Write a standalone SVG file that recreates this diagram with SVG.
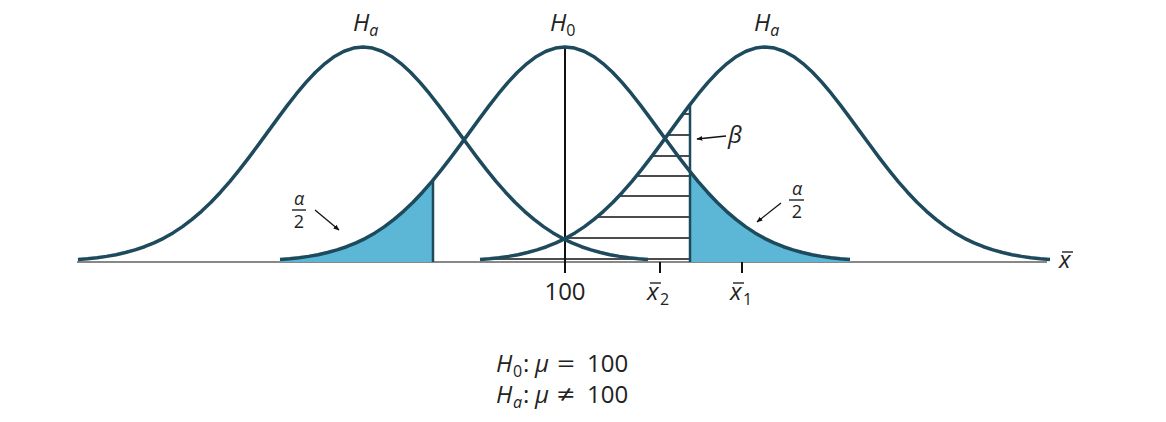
<svg xmlns="http://www.w3.org/2000/svg" xmlns:xlink="http://www.w3.org/1999/xlink" width="1166" height="422" viewBox="0 0 1166 422">
<style>
  text { font-family: "Open Sans", "Noto Sans", "Liberation Sans", sans-serif; fill: #222; }
  .it { font-style: italic; }
  .lbl { font-size: 24px; }
  .sub { font-size: 16px; }
  .frac { font-size: 18px; }
  .curve { fill: none; stroke: #1d4a5c; stroke-width: 3.5; stroke-linejoin: round; }
  .shade { fill: #5bb7d5; stroke: none; }
  .edge { stroke: #1d4a5c; stroke-width: 2.5; }
  .hatch { stroke: #111; stroke-width: 1.5; }
  .tick { stroke: #111; stroke-width: 2; }
  .axis { stroke: #888; stroke-width: 2.2; }
  .arrow { stroke: #111; stroke-width: 1.3; fill: none; marker-end: url(#ah); }
  .bar { stroke: #222; stroke-width: 1.4; }
</style>
<defs>
  <marker id="ah" viewBox="0 0 10 10" refX="9" refY="5" markerWidth="6" markerHeight="6" orient="auto" markerUnits="userSpaceOnUse">
    <path d="M0,1 L10,5 L0,9 Z" fill="#111"/>
  </marker>
  <path id="g" d="M-285,259.61 L-275.5,258.79 L-266,257.73 L-256.5,256.38 L-247,254.68 L-237.5,252.55 L-228,249.93 L-218.5,246.73 L-209,242.88 L-199.5,238.3 L-190,232.9 L-180.5,226.64 L-171,219.45 L-161.5,211.31 L-152,202.22 L-142.5,192.2 L-133,181.31 L-123.5,169.64 L-114,157.35 L-104.5,144.59 L-95,131.6 L-85.5,118.6 L-76,105.88 L-66.5,93.72 L-57,82.42 L-47.5,72.26 L-38,63.53 L-28.5,56.46 L-19,51.26 L-9.5,48.07 L0,47 L9.5,48.07 L19,51.26 L28.5,56.46 L38,63.53 L47.5,72.26 L57,82.42 L66.5,93.72 L76,105.88 L85.5,118.6 L95,131.6 L104.5,144.59 L114,157.35 L123.5,169.64 L133,181.31 L142.5,192.2 L152,202.22 L161.5,211.31 L171,219.45 L180.5,226.64 L190,232.9 L199.5,238.3 L209,242.88 L218.5,246.73 L228,249.93 L237.5,252.55 L247,254.68 L256.5,256.38 L266,257.73 L275.5,258.79 L285,259.61"/>
  <path id="ga" d="M-285,259.61 L-275.5,258.79 L-266,257.73 L-256.5,256.38 L-247,254.68 L-237.5,252.55 L-228,249.93 L-218.5,246.73 L-209,242.88 L-199.5,238.3 L-190,232.9 L-180.5,226.64 L-171,219.45 L-161.5,211.31 L-152,202.22 L-142.5,192.2 L-133,181.31 L-123.5,169.64 L-114,157.35 L-104.5,144.59 L-95,131.6 L-85.5,118.6 L-76,105.88 L-66.5,93.72 L-57,82.42 L-47.5,72.26 L-38,63.53 L-28.5,56.46 L-19,51.26 L-9.5,48.07 L0,47 L9.5,48.07 L19,51.26 L28.5,56.46 L38,63.53 L47.5,72.26 L57,82.42 L66.5,93.72 L76,105.88 L85.5,118.6 L95,131.6 L104.5,144.59 L114,157.35 L123.5,169.64 L133,181.31 L142.5,192.2 L152,202.22 L161.5,211.31 L171,219.45 L180.5,226.64 L190,232.9 L199.5,238.3 L209,242.88 L218.5,246.73 L228,249.93 L237.5,252.55 L247,254.68 L256.5,256.38 L266,257.73 L275.5,258.79 L285,259.61 L285,262 L-285,262 Z"/>
  <clipPath id="clipL"><rect x="270" y="0" width="163" height="263"/></clipPath>
  <clipPath id="clipR"><rect x="690" y="0" width="170" height="263"/></clipPath>
</defs>

<rect width="1166" height="422" fill="#fff"/>

<g id="axis">
  <line class="axis" x1="77" y1="262" x2="1047" y2="262"/>
</g>

<g id="rejection-left">
  <g clip-path="url(#clipL)"><use xlink:href="#ga" href="#ga" transform="translate(565,0)" class="shade"/></g>
  <line class="edge" x1="433" y1="180" x2="433" y2="262"/>
</g>
<g id="rejection-right">
  <g clip-path="url(#clipR)"><use xlink:href="#ga" href="#ga" transform="translate(565,0)" class="shade"/></g>
</g>

<g id="beta-hatch">
  <line class="hatch" x1="683" y1="114" x2="690" y2="114"/>
  <line class="hatch" x1="667" y1="135" x2="690" y2="135"/>
  <line class="hatch" x1="652" y1="156" x2="690" y2="156"/>
  <line class="hatch" x1="636" y1="176" x2="690" y2="176"/>
  <line class="hatch" x1="619" y1="196" x2="690" y2="196"/>
  <line class="hatch" x1="597" y1="217" x2="690" y2="217"/>
  <line class="hatch" x1="566" y1="238" x2="690" y2="238"/>
  <line class="hatch" x1="488" y1="259" x2="690" y2="259"/>
</g>

<g id="ticks">
  <line class="tick" x1="565" y1="47" x2="565" y2="273"/>
  <line class="tick" x1="660" y1="262" x2="660" y2="273"/>
  <line class="tick" x1="742" y1="262" x2="742" y2="273"/>
</g>

<g id="curve-ha-left"><use xlink:href="#g" href="#g" transform="translate(363,0)" class="curve"/></g>
<g id="curve-h0"><use xlink:href="#g" href="#g" transform="translate(565,0)" class="curve"/></g>
<g id="curve-ha-right"><use xlink:href="#g" href="#g" transform="translate(765,0)" class="curve"/></g>
<g id="critical-line">
  <line class="edge" x1="690" y1="104.6" x2="690" y2="262"/>
</g>

<g id="connectors">
  <line class="arrow" x1="315" y1="210" x2="339" y2="230"/>
  <line class="arrow" x1="781" y1="203" x2="757" y2="222"/>
  <line class="arrow" x1="726" y1="136" x2="697" y2="139"/>
</g>

<g id="top-labels">
  <text class="lbl it" x="353" y="31">H<tspan class="sub" dy="5">a</tspan></text>
  <text class="lbl it" x="550" y="31">H<tspan class="sub" dy="5" style="font-style:normal">0</tspan></text>
  <text class="lbl it" x="754" y="31">H<tspan class="sub" dy="5">a</tspan></text>
</g>

<g id="alpha-left">
  <text class="frac it" x="299" y="205" text-anchor="middle">α</text>
  <line class="bar" x1="292" y1="210" x2="306" y2="210"/>
  <text class="frac" x="299" y="228" text-anchor="middle">2</text>
</g>
<g id="alpha-right">
  <text class="frac it" x="797" y="195" text-anchor="middle">α</text>
  <line class="bar" x1="789" y1="200" x2="804" y2="200"/>
  <text class="frac" x="797" y="218" text-anchor="middle">2</text>
</g>
<g id="beta-label">
  <text class="lbl it" x="728" y="143">β</text>
</g>

<g id="axis-labels">
  <text class="lbl" x="565" y="300" text-anchor="middle">100</text>
  <text class="lbl it" x="647" y="300">x</text>
  <line class="bar" x1="650" y1="283" x2="661" y2="283"/>
  <text class="sub" x="660" y="305">2</text>
  <text class="lbl it" x="730" y="300">x</text>
  <line class="bar" x1="733" y1="283" x2="744" y2="283"/>
  <text class="sub" x="743" y="305">1</text>
  <text class="lbl it" x="1059" y="268">x</text>
  <line class="bar" x1="1062" y1="252" x2="1073" y2="252"/>
</g>

<g id="hypotheses">
  <text class="lbl it" x="496" y="372">H</text>
  <text class="sub" x="513" y="377">0</text>
  <text class="lbl" x="523" y="372">:</text>
  <text class="lbl it" x="535" y="372">μ</text>
  <text class="lbl" x="557" y="372" textLength="18" lengthAdjust="spacingAndGlyphs">=</text>
  <text class="lbl" x="587" y="372">100</text>
  <text class="lbl it" x="496" y="403">H</text>
  <text class="sub it" x="513" y="408">a</text>
  <text class="lbl" x="523" y="403">:</text>
  <text class="lbl it" x="535" y="403">μ</text>
  <text class="lbl" x="557" y="403" textLength="18" lengthAdjust="spacingAndGlyphs">≠</text>
  <text class="lbl" x="587" y="403">100</text>
</g>
</svg>
